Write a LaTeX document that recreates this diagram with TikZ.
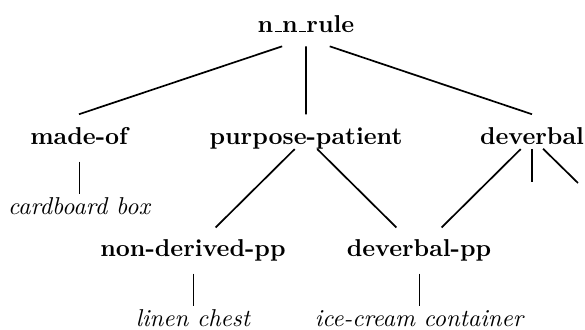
\documentclass[tikz,border=0pt]{standalone}
\usetikzlibrary{calc}

\newcommand{\uscore}{\kern.06em\vbox{\hrule width.3em}}

\tikzset{
	typ/.style={font=\bfseries, inner xsep=0pt, inner ysep=5pt, text height=7pt, text depth=2pt, anchor=base},
	word/.style={font=\itshape, inner xsep=0pt, inner ysep=1.2pt, text height=7pt, text depth=2pt, anchor=base},
	edge/.style={line width=0.7pt},
	leafedge/.style={line width=0.4pt}
}

\begin{document}
\begin{tikzpicture}[x=0.41pt, y=-0.41pt]

	\useasboundingbox (0,0) rectangle (585,329);

	% Root
	\node[typ, inner ysep=0.4pt] (nnrule) at (306,32) {n\uscore n\uscore rule};

	% Subtypes
	\node[typ] (madeof) at (79,144) {made-of};
	\node[typ] (purpose) at (306,144) {purpose-patient};
	\node[typ] (deverbal) at (532,144) {deverbal};
	\node[typ] (nonderived) at (193,256) {non-derived-pp};
	\node[typ] (deverbalpp) at (419,256) {deverbal-pp};

	% Examples
	\node[word] (cardboard) at (79,214) {cardboard box};
	\node[word] (linen) at (193,326) {linen chest};
	\node[word] (icecream) at (419,326) {ice-cream container};

	% Root edges
	\foreach \c in {madeof, purpose, deverbal} {
		\draw[edge] ($(nnrule.south)!0.105!(\c.north)$) -- (\c.north);
	}

	% Lower edges
	\foreach \p/\c in {purpose/nonderived, purpose/deverbalpp, deverbal/deverbalpp} {
		\draw[edge] ($(\p)!0.1!(\c)$) -- ($(\p)!0.8!(\c)$);
	}

	% Edges leaving the picture
	\coordinate (dvmid) at (532,182);
	\coordinate (dvright) at (578,183);
	\draw[edge] ($(deverbal)!0.25!(dvmid)$) -- (dvmid);
	\draw[edge] ($(deverbal)!0.24!(dvright)$) -- (dvright);

	% Example edges
	\foreach \p/\c in {madeof/cardboard, nonderived/linen, deverbalpp/icecream} {
		\draw[leafedge] (\p.south) -- (\c.north);
	}

\end{tikzpicture}
\end{document}
